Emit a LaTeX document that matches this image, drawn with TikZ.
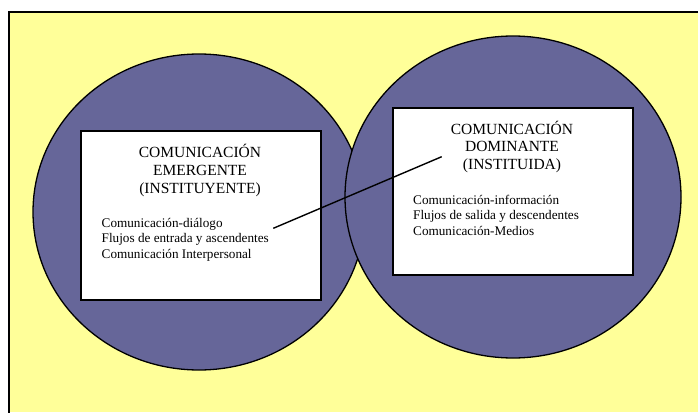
\documentclass[tikz,border=0pt]{standalone}
\usepackage{fontspec}
\setmainfont{Liberation Serif}
\definecolor{bgyellow}{RGB}{255,255,153}
\definecolor{ovalblue}{RGB}{102,102,153}
\begin{document}
\begin{tikzpicture}[x=1pt,y=-1pt,
  oval/.style={draw=black,line width=1.3pt,fill=ovalblue},
  panel/.style={draw=black,line width=1.8pt,fill=white},
  titletext/.style={align=center,font=\fontsize{15.5}{17.8}\selectfont,inner sep=0pt},
  bodytext/.style={align=left,font=\fontsize{13.2}{15.5}\selectfont,inner sep=0pt},
  link/.style={draw=black,line width=1.4pt}]
\useasboundingbox (0,0) rectangle (698,412);
\fill[white] (0,0) rectangle (698,412);
\fill[bgyellow] (9,12) rectangle (698,412);
\draw[line width=1.5pt] (9,413) -- (9,12) -- (698,12);
% ellipses
\draw[oval] (199,212) ellipse [x radius=166, y radius=158];
\draw[oval] (513,197) ellipse [x radius=168, y radius=161];
% boxes
\node[panel,minimum width=240pt,minimum height=169pt,inner sep=0pt] (lbox) at (201,215.5) {};
\node[panel,minimum width=240pt,minimum height=167pt,inner sep=0pt] (rbox) at (513,191.5) {};
% texts
\node[titletext,anchor=north] (ltitle) at (200,144) {COMUNICACIÓN\\EMERGENTE\\(INSTITUYENTE)};
\node[bodytext,anchor=north west] (lbody) at (101.5,218) {Comunicación-diálogo\\Flujos de entrada y ascendentes\\Comunicación Interpersonal};
\node[titletext,anchor=north] (rtitle) at (512,120.5) {COMUNICACIÓN\\DOMINANTE\\(INSTITUIDA)};
\node[bodytext,anchor=north west] (rbody) at (413,195) {Comunicación-información\\Flujos de salida y descendentes\\Comunicación-Medios};
% connector
\coordinate (la) at (273.3,228.3);
\coordinate (lb) at (441.7,156.7);
\draw[link] (la) -- (lb);
\end{tikzpicture}
\end{document}
